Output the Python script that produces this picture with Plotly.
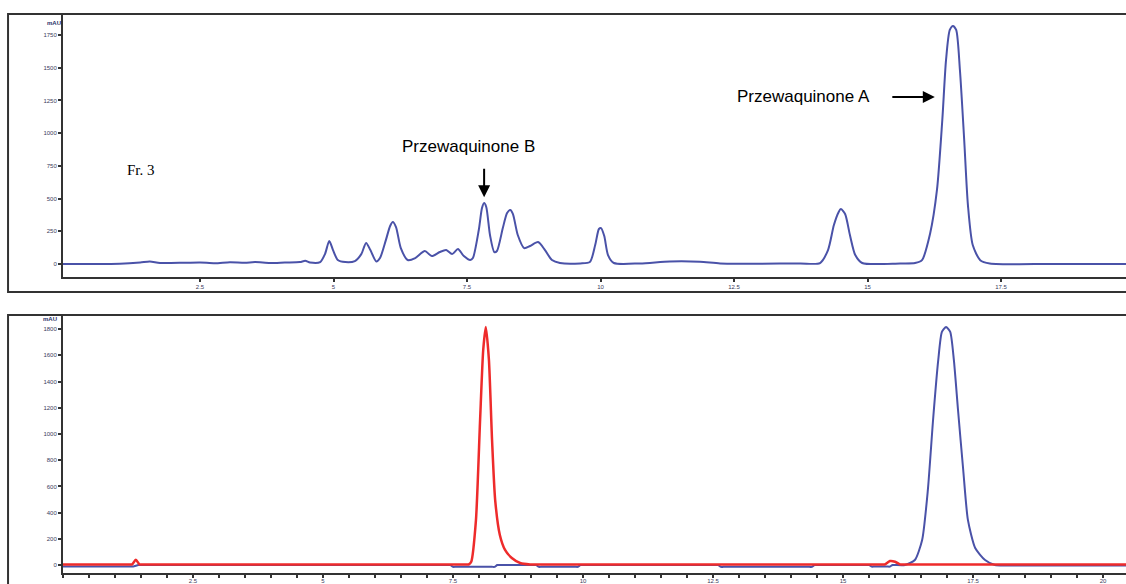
import plotly.graph_objects as go

# ---------------- data ----------------
# Top panel: Fr. 3 chromatogram (time in min, absorbance in mAU)
top_t = [-0.07, 0.44, 1.00, 1.38, 1.56, 1.75, 2.22, 2.50, 2.78, 3.06, 3.34, 3.53, 3.81, 4.09, 4.37, 4.47,
         4.56, 4.75, 4.84, 4.92, 4.99, 5.08, 5.22, 5.40, 5.52, 5.61, 5.69, 5.80, 5.87, 5.98, 6.06, 6.11,
         6.17, 6.26, 6.39, 6.53, 6.71, 6.84, 6.99, 7.11, 7.22, 7.33, 7.44, 7.56, 7.61, 7.72, 7.78, 7.82,
         7.86, 7.93, 8.01, 8.06, 8.17, 8.25, 8.31, 8.36, 8.45, 8.57, 8.68, 8.83, 8.96, 9.09, 9.24, 9.62,
         9.80, 9.90, 9.97, 10.01, 10.07, 10.14, 10.25, 10.74, 11.30, 11.86, 12.24, 12.99, 13.74, 14.11,
         14.26, 14.37, 14.46, 14.50, 14.58, 14.67, 14.77, 14.90, 15.61, 15.89, 16.02, 16.17, 16.30, 16.40,
         16.47, 16.54, 16.60, 16.66, 16.73, 16.81, 16.88, 16.97, 17.11, 17.29, 18.42, 19.84]
top_v = [0, 0, 2, 12, 20, 8, 10, 12, 6, 14, 10, 15, 8, 12, 15, 25,
         12, 15, 76, 176, 107, 31, 15, 23, 76, 161, 107, 20, 46, 183, 291, 321,
         283, 122, 31, 46, 99, 61, 92, 107, 76, 115, 61, 31, 46, 260, 428, 466,
         436, 222, 92, 100, 275, 390, 413, 382, 222, 122, 138, 168, 107, 31, 8, 5,
         15, 145, 268, 275, 214, 69, 8, 5, 20, 18, 5, 3, 5, 8,
         107, 298, 398, 420, 382, 222, 69, 8, 5, 8, 30, 230, 566, 1101,
         1560, 1789, 1820, 1789, 1483, 948, 451, 145, 30, 5, 0, 0]

# Bottom panel: standards (red = Przewaquinone B, blue = Przewaquinone A)
red_t = [0.00, 1.30, 1.33, 1.40, 1.47, 1.50, 7.75, 7.80, 7.85, 7.94, 8.02, 8.08, 8.13, 8.19, 8.25, 8.31,
         8.40, 8.50, 8.63, 8.79, 8.98, 9.05, 15.75, 15.80, 15.90, 16.00, 16.10, 16.15, 20.50]
red_v = [4, 4, 4, 40, 4, 4, 4, 4, 25, 340, 1107, 1641, 1817, 1565, 954, 496,
         229, 115, 53, 15, 4, 4, 4, 4, 30, 25, 4, 4, 4]

blue_t = [0.00, 1.30, 1.35, 1.45, 1.50, 7.40, 7.45, 7.50, 7.55, 8.25, 8.30, 8.35, 8.40, 9.05, 9.10, 9.15,
          9.20, 9.85, 9.90, 9.95, 10.00, 12.55, 12.60, 12.65, 12.70, 14.35, 14.40, 14.45, 14.50, 15.45,
          15.50, 15.55, 15.60, 15.85, 15.90, 15.95, 16.00, 16.19, 16.38, 16.52, 16.63, 16.73, 16.83,
          16.90, 16.98, 17.06, 17.13, 17.21, 17.31, 17.40, 17.54, 17.73, 17.92, 18.12, 18.30, 20.50]
blue_v = [-12, -12, -12, 0, 0, 0, 0, -14, -14, -14, -14, 0, 0, 0, 0, -14,
          -14, -14, -14, 0, 0, 0, 0, -14, -14, -14, -14, 0, 0, 0,
          0, -12, -12, -12, -12, 0, 0, 0, 38, 191, 573, 1107, 1565,
          1779, 1817, 1779, 1565, 1183, 725, 344, 130, 38, 0, -3, -3, -3]

top_yticks = [0, 250, 500, 750, 1000, 1250, 1500, 1750]
bot_yticks = [0, 200, 400, 600, 800, 1000, 1200, 1400, 1600, 1800]
xticks = [2.5, 5, 7.5, 10, 12.5, 15, 17.5, 20]
xtick_text = ["2.5", "5", "7.5", "10", "12.5", "15", "17.5", "20"]

BLUE = "#4a52a8"
RED = "#ee2b2b"
FRAME = "#333333"
TICKFONT = dict(family="Liberation Sans, Arial", size=6, color="#3a3a5a")

fig = go.Figure()
fig.add_trace(go.Scatter(x=top_t, y=top_v, mode="lines", xaxis="x", yaxis="y",
                         line=dict(color=BLUE, width=2, shape="spline", smoothing=0.7),
                         showlegend=False, hoverinfo="skip"))
fig.add_trace(go.Scatter(x=blue_t, y=blue_v, mode="lines", xaxis="x2", yaxis="y2",
                         line=dict(color=BLUE, width=2, shape="spline", smoothing=0.6),
                         showlegend=False, hoverinfo="skip"))
fig.add_trace(go.Scatter(x=red_t, y=red_v, mode="lines", xaxis="x2", yaxis="y2",
                         line=dict(color=RED, width=2.5, shape="spline", smoothing=0.6),
                         showlegend=False, hoverinfo="skip"))

axis_common = dict(showgrid=False, zeroline=False, showline=True, linecolor=FRAME, linewidth=2,
                   ticks="outside", ticklen=3, tickwidth=2, tickcolor=FRAME, tickfont=TICKFONT)

fig.update_layout(
    width=1126, height=584,
    margin=dict(l=63, r=0, t=14, b=11, autoexpand=False),
    paper_bgcolor="white", plot_bgcolor="white",
    xaxis=dict(domain=[0, 1], anchor="y", range=[-0.066, 19.84], tickvals=xticks, ticktext=xtick_text,
               **axis_common),
    yaxis=dict(domain=[0.5295, 1], anchor="x", range=[-99, 1911], tickvals=top_yticks, **axis_common),
    xaxis2=dict(domain=[0, 1], anchor="y2", range=[0, 20.44], tickvals=xticks, ticktext=xtick_text,
                minor=dict(dtick=0.5, ticklen=3, tickwidth=2, tickcolor=FRAME, ticks="outside"),
                ticklabelstandoff=-2, **axis_common),
    yaxis2=dict(domain=[0, 0.4615], anchor="x2", range=[-61, 1908], tickvals=bot_yticks, **axis_common),
)

# outer frames of both panels
fig.add_shape(type="rect", xref="paper", yref="paper", x0=-0.0517, x1=1.01, y0=0.5027, y1=1.0,
              line=dict(color=FRAME, width=2), layer="above")
fig.add_shape(type="rect", xref="paper", yref="paper", x0=-0.0517, x1=1.01, y0=-0.034, y1=0.4615,
              line=dict(color=FRAME, width=2), layer="above")

# axis unit labels
fig.add_annotation(text="<b>mAU</b>", xref="paper", yref="paper", x=-0.017, y=0.993, showarrow=False,
                   font=dict(family="Liberation Sans, Arial", size=6, color="#2a2f6a"))
fig.add_annotation(text="<b>mAU</b>", xref="paper", yref="paper", x=-0.021, y=0.455, showarrow=False,
                   font=dict(family="Liberation Sans, Arial", size=6, color="#2a2f6a"))

# text labels
fig.add_annotation(text="Fr. 3", x=1.40, y=719, xref="x", yref="y", showarrow=False,
                   font=dict(family="Liberation Serif, Times New Roman", size=15, color="black"))
fig.add_annotation(text="Przewaquinone B", x=7.53, y=902, xref="x", yref="y", showarrow=False,
                   font=dict(family="Liberation Sans, Arial", size=17, color="black"))
fig.add_annotation(text="Przewaquinone A", x=13.81, y=1277, xref="x", yref="y", showarrow=False,
                   font=dict(family="Liberation Sans, Arial", size=17, color="black"))

# arrows
fig.add_annotation(text="", x=7.82, y=510, xref="x", yref="y", ax=0, ay=-30,
                   showarrow=True, arrowhead=2, arrowsize=1.2, arrowwidth=2, arrowcolor="black")
fig.add_annotation(text="", x=16.26, y=1277, xref="x", yref="y", ax=-44, ay=0,
                   showarrow=True, arrowhead=2, arrowsize=1.2, arrowwidth=2, arrowcolor="black")

fig.write_html("out.html", config={"displayModeBar": False},
               post_script="document.body.style.margin='0';document.body.style.overflow='hidden';")
